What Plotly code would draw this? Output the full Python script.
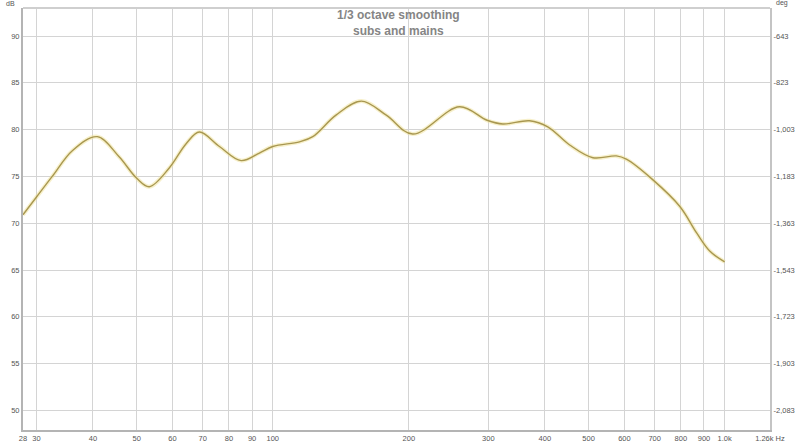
import plotly.graph_objects as go

# Data
freq_hz = [28, 30, 32.5, 36.1, 40.9, 45.7, 50, 53.3, 59, 64.3, 68.8, 76.2, 85.1, 93.4, 100,
           114.6, 122.6, 138, 157, 178.3, 204, 259, 298, 323, 370, 406, 454, 511, 576, 606,
           694, 796, 867, 928, 1000]
spl_db = [70.9, 72.8, 75.0, 77.8, 79.25, 77.1, 74.8, 73.9, 75.9, 78.5, 79.74, 78.2, 76.69, 77.5, 78.2,
          78.7, 79.25, 81.55, 83.05, 81.55, 79.53, 82.44, 81.0, 80.6, 80.95, 80.3, 78.36, 77.0, 77.19, 76.84,
          74.63, 71.79, 68.96, 67.0, 65.87]

x_tick_vals = [28, 30, 40, 50, 60, 70, 80, 90, 100, 200, 300, 400, 500, 600, 700, 800, 900, 1000, 1260]
x_tick_text = ["28", "30", "40", "50", "60", "70", "80", "90", "100", "200", "300", "400", "500",
               "600", "700", "800", "900", "1.0k", "1.26k Hz"]
db_ticks = [50, 55, 60, 65, 70, 75, 80, 85, 90]
deg_ticks = [-643, -823, -1003, -1183, -1363, -1543, -1723, -1903, -2083]
deg_text = ["-643", "-823", "-1,003", "-1,183", "-1,363", "-1,543", "-1,723", "-1,903", "-2,083"]

title_lines = ["1/3 octave smoothing", "subs and mains"]

DB_RANGE = [47.9, 93.0]
def db_to_deg(v):
    return -643 - (90 - v) * 36

fig = go.Figure()
# soft halo
fig.add_trace(go.Scatter(x=freq_hz, y=spl_db, mode="lines",
                         line=dict(color="rgba(240,225,150,0.5)", width=4, shape="spline", smoothing=1.0),
                         hoverinfo="skip", showlegend=False))
fig.add_trace(go.Scatter(x=freq_hz, y=spl_db, mode="lines",
                         line=dict(color="#a89750", width=1.4, shape="spline", smoothing=1.0),
                         showlegend=False))
# invisible trace for right axis
fig.add_trace(go.Scatter(x=[100], y=[db_to_deg(80)], yaxis="y2", mode="markers",
                         marker=dict(opacity=0), hoverinfo="skip", showlegend=False))

FONT = "Liberation Sans, Arial, sans-serif"
tickfont = dict(family=FONT, size=7.5, color="#555555")
fig.update_layout(
    width=800, height=443,
    margin=dict(l=23, r=30, t=8, b=13),
    paper_bgcolor="white", plot_bgcolor="white",
    xaxis=dict(type="log", range=[1.4472, 3.1004], tickvals=x_tick_vals, ticktext=x_tick_text,
               showgrid=True, gridcolor="#d4d4d4", gridwidth=1, zeroline=False,
               showline=True, linecolor="#b4b4b4", linewidth=2, mirror=False,
               ticks="", ticklen=0, tickfont=tickfont, tickangle=0, automargin=False),
    yaxis=dict(range=DB_RANGE, tickvals=db_ticks, showgrid=True, gridcolor="#d4d4d4", gridwidth=1,
               zeroline=False, showline=True, linecolor="#b4b4b4", linewidth=2,
               ticks="", tickfont=tickfont, automargin=False),
    yaxis2=dict(overlaying="y", side="right", range=[db_to_deg(DB_RANGE[0]), db_to_deg(DB_RANGE[1])],
                tickvals=deg_ticks, ticktext=deg_text, showgrid=False, zeroline=False,
                showline=True, linecolor="#c4c4c4", linewidth=2, ticks="", tickfont=tickfont,
                automargin=False),
    shapes=[dict(type="line", xref="paper", yref="paper", x0=0, x1=1, y0=1, y1=1,
                 line=dict(color="#cfcfcf", width=2))],
    annotations=[
        dict(text="<b>" + title_lines[0] + "</b>", xref="paper", yref="paper",
             x=0.503, y=1.0, yshift=2, xanchor="center", yanchor="top", showarrow=False,
             font=dict(family=FONT, size=12, color="#858585")),
        dict(text="<b>" + title_lines[1] + "</b>", xref="paper", yref="paper",
             x=0.503, y=1.0, yshift=-14, xanchor="center", yanchor="top", showarrow=False,
             font=dict(family=FONT, size=12, color="#858585")),
        dict(text="dB", xref="paper", yref="paper", x=-0.008, y=1.0, yshift=-1, xanchor="right", yanchor="bottom",
             showarrow=False, font=dict(family=FONT, size=7, color="#555555")),
        dict(text="deg", xref="paper", yref="paper", x=1.005, y=1.0, yshift=-1, xanchor="left", yanchor="bottom",
             showarrow=False, font=dict(family=FONT, size=7, color="#555555")),
    ],
)

fig.write_html("out.html", config={"displayModeBar": False},
               post_script="document.body.style.margin='0';document.body.style.overflow='hidden';")
